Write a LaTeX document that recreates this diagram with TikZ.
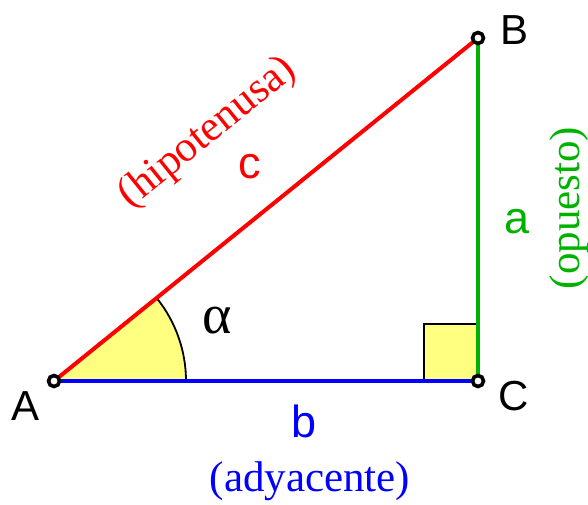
\documentclass[tikz,border=0pt]{standalone}
\usepackage{fontspec}
\setmainfont{Liberation Serif}
\setsansfont{Liberation Sans}
\usepackage{tikz}
\usetikzlibrary{calc}
\definecolor{hipred}{RGB}{255,0,0}
\definecolor{opgreen}{RGB}{0,178,0}
\definecolor{adyblue}{RGB}{0,0,255}
\definecolor{anglefill}{RGB}{255,255,128}

\begin{document}
\begin{tikzpicture}[
  x=1pt, y=-1pt,
  vertex/.style={circle, draw=black, fill=white, line width=3.6pt, inner sep=0pt, minimum size=11pt},
  vlabel/.style={font=\sffamily\fontsize{42}{48}\selectfont, inner sep=0pt},
  side/.style={font=\sffamily\fontsize{45}{52}\selectfont, inner sep=0pt},
  role/.style={font=\rmfamily\fontsize{43}{48}\selectfont, inner sep=0pt}
]
\useasboundingbox (0,0) rectangle (588,504);

\coordinate (A) at (54,381);
\coordinate (B) at (478,38);
\coordinate (C) at (478,381);

% angle and right angle marks
\fill[anglefill] (A) -- ++(132,0) arc[start angle=0, end angle=-38.97, radius=132] -- cycle;
\draw[black, line width=1.8pt] ($(A)+(132,0)$) arc[start angle=0, end angle=-38.97, radius=132];
\filldraw[fill=anglefill, draw=black, line width=1.8pt] (C) -- ++(-54,0) -- ++(0,-57) -- ++(54,0);

% sides
\draw[hipred, line width=4pt] (A) -- (B);
\draw[opgreen, line width=4pt] (B) -- (C);
\draw[adyblue, line width=4pt] (A) -- (C);

\node[vertex] (pA) at (A) {};
\node[vertex] (pB) at (B) {};
\node[vertex] (pC) at (C) {};

\node[vlabel] (lA) at (26,406) {A};
\node[vlabel] (lB) at (514,30) {B};
\node[vlabel] (lC) at (514,396) {C};
\node[font=\rmfamily\fontsize{56}{60}\selectfont, inner sep=0pt] (alpha) at (217,321) {α};

\node[side, text=hipred] (sc) at (250,167) {c};
\node[side, text=opgreen] (sa) at (517,222) {a};
\node[side, text=adyblue] (sb) at (304,421) {b};

\node[role, text=hipred, rotate=38.97] (hip) at (208,133) {(hipotenusa)};
\node[role, text=opgreen, rotate=90] (op) at (569,208) {(opuesto)};
\node[role, text=adyblue] (ady) at (310,481) {(adyacente)};
\end{tikzpicture}
\end{document}
